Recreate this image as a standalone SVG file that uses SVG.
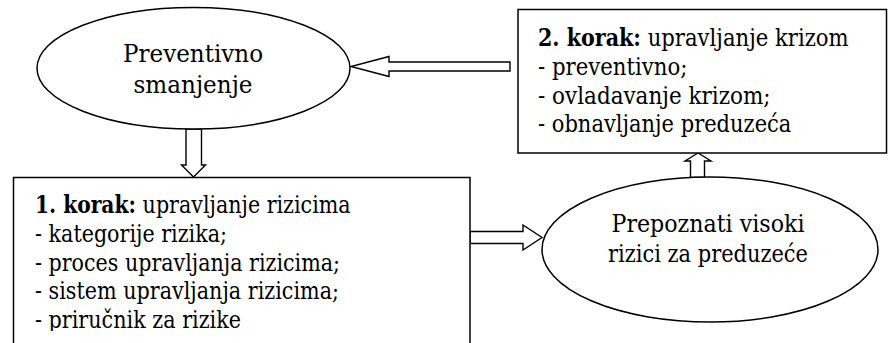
<svg xmlns="http://www.w3.org/2000/svg" width="888" height="343" viewBox="0 0 888 343">
  <style>
    .shape { fill: #ffffff; stroke: #000000; stroke-width: 1.5; }
    .arrow { fill: #ffffff; stroke: #000000; stroke-width: 1.4; stroke-linejoin: miter; }
    text { font-family: "DejaVu Serif", serif; fill: #000000; }
    .box { font-size: 23.5px; }
    .b { font-weight: bold; }
  </style>
  <defs>
    <clipPath id="box1-clip">
      <rect x="0" y="170" width="480" height="161"/>
    </clipPath>
  </defs>
  <rect width="888" height="343" fill="#ffffff"/>

  <!-- block arrows -->
  <g id="connectors">
    <!-- step 2 box to preventive reduction -->
    <polygon class="arrow" points="510,62 389,62 389,56.5 351,66.5 389,76.5 389,71 510,71"/>
    <!-- preventive reduction to step 1 box -->
    <polygon class="arrow" points="186,129 201.5,129 201.5,165 205.5,165 193.5,177 181.5,165 186,165"/>
    <!-- step 1 box to identified risks -->
    <polygon class="arrow" points="470,231.5 523,231.5 523,225 542,237.5 523,250 523,243.5 470,243.5"/>
    <!-- identified risks to step 2 box -->
    <polygon class="arrow" points="690.5,177.5 690.5,161 685,161 698,153 711,161 704.5,161 704.5,177.5"/>
  </g>

  <g id="preventivno-smanjenje">
    <ellipse class="shape" cx="193.5" cy="68.2" rx="156.5" ry="60.8"/>
    <text x="123" y="61.7" font-size="25" textLength="140" lengthAdjust="spacingAndGlyphs">Preventivno</text>
    <text x="133.5" y="93.3" font-size="25" textLength="119" lengthAdjust="spacingAndGlyphs">smanjenje</text>
  </g>

  <g id="korak-2">
    <rect class="shape" x="518" y="9.5" width="368.5" height="143.5"/>
    <text class="box b" x="538" y="46" textLength="103" lengthAdjust="spacingAndGlyphs">2. korak:</text>
    <text class="box" x="647.7" y="46" textLength="201" lengthAdjust="spacingAndGlyphs">upravljanje krizom</text>
    <text class="box" x="538" y="74.8" textLength="149.4" lengthAdjust="spacingAndGlyphs">- preventivno;</text>
    <text class="box" x="538" y="103.6" textLength="232.6" lengthAdjust="spacingAndGlyphs">- ovladavanje krizom;</text>
    <text class="box" x="538" y="132.4" textLength="253.4" lengthAdjust="spacingAndGlyphs">- obnavljanje preduzeća</text>
  </g>

  <g id="korak-1">
    <rect class="shape" x="13.5" y="177.5" width="456.5" height="200"/>
    <g clip-path="url(#box1-clip)">
      <text class="box b" x="35" y="213" textLength="101" lengthAdjust="spacingAndGlyphs">1. korak:</text>
      <text class="box" x="142.6" y="213" textLength="208" lengthAdjust="spacingAndGlyphs">upravljanje rizicima</text>
      <text class="box" x="35" y="241.8" textLength="192" lengthAdjust="spacingAndGlyphs">- kategorije rizika;</text>
      <text class="box" x="35" y="270.6" textLength="305" lengthAdjust="spacingAndGlyphs">- proces upravljanja rizicima;</text>
      <text class="box" x="35" y="299.4" textLength="304" lengthAdjust="spacingAndGlyphs">- sistem upravljanja rizicima;</text>
      <text class="box" x="35" y="328.2" textLength="206" lengthAdjust="spacingAndGlyphs">- priručnik za rizike</text>
    </g>
  </g>

  <g id="visoki-rizici">
    <ellipse class="shape" cx="710" cy="249.5" rx="168" ry="72.5"/>
    <text x="611.5" y="231.7" font-size="24" textLength="193" lengthAdjust="spacingAndGlyphs">Prepoznati visoki</text>
    <text x="608" y="261.7" font-size="24" textLength="200" lengthAdjust="spacingAndGlyphs">rizici za preduzeće</text>
  </g>
</svg>
